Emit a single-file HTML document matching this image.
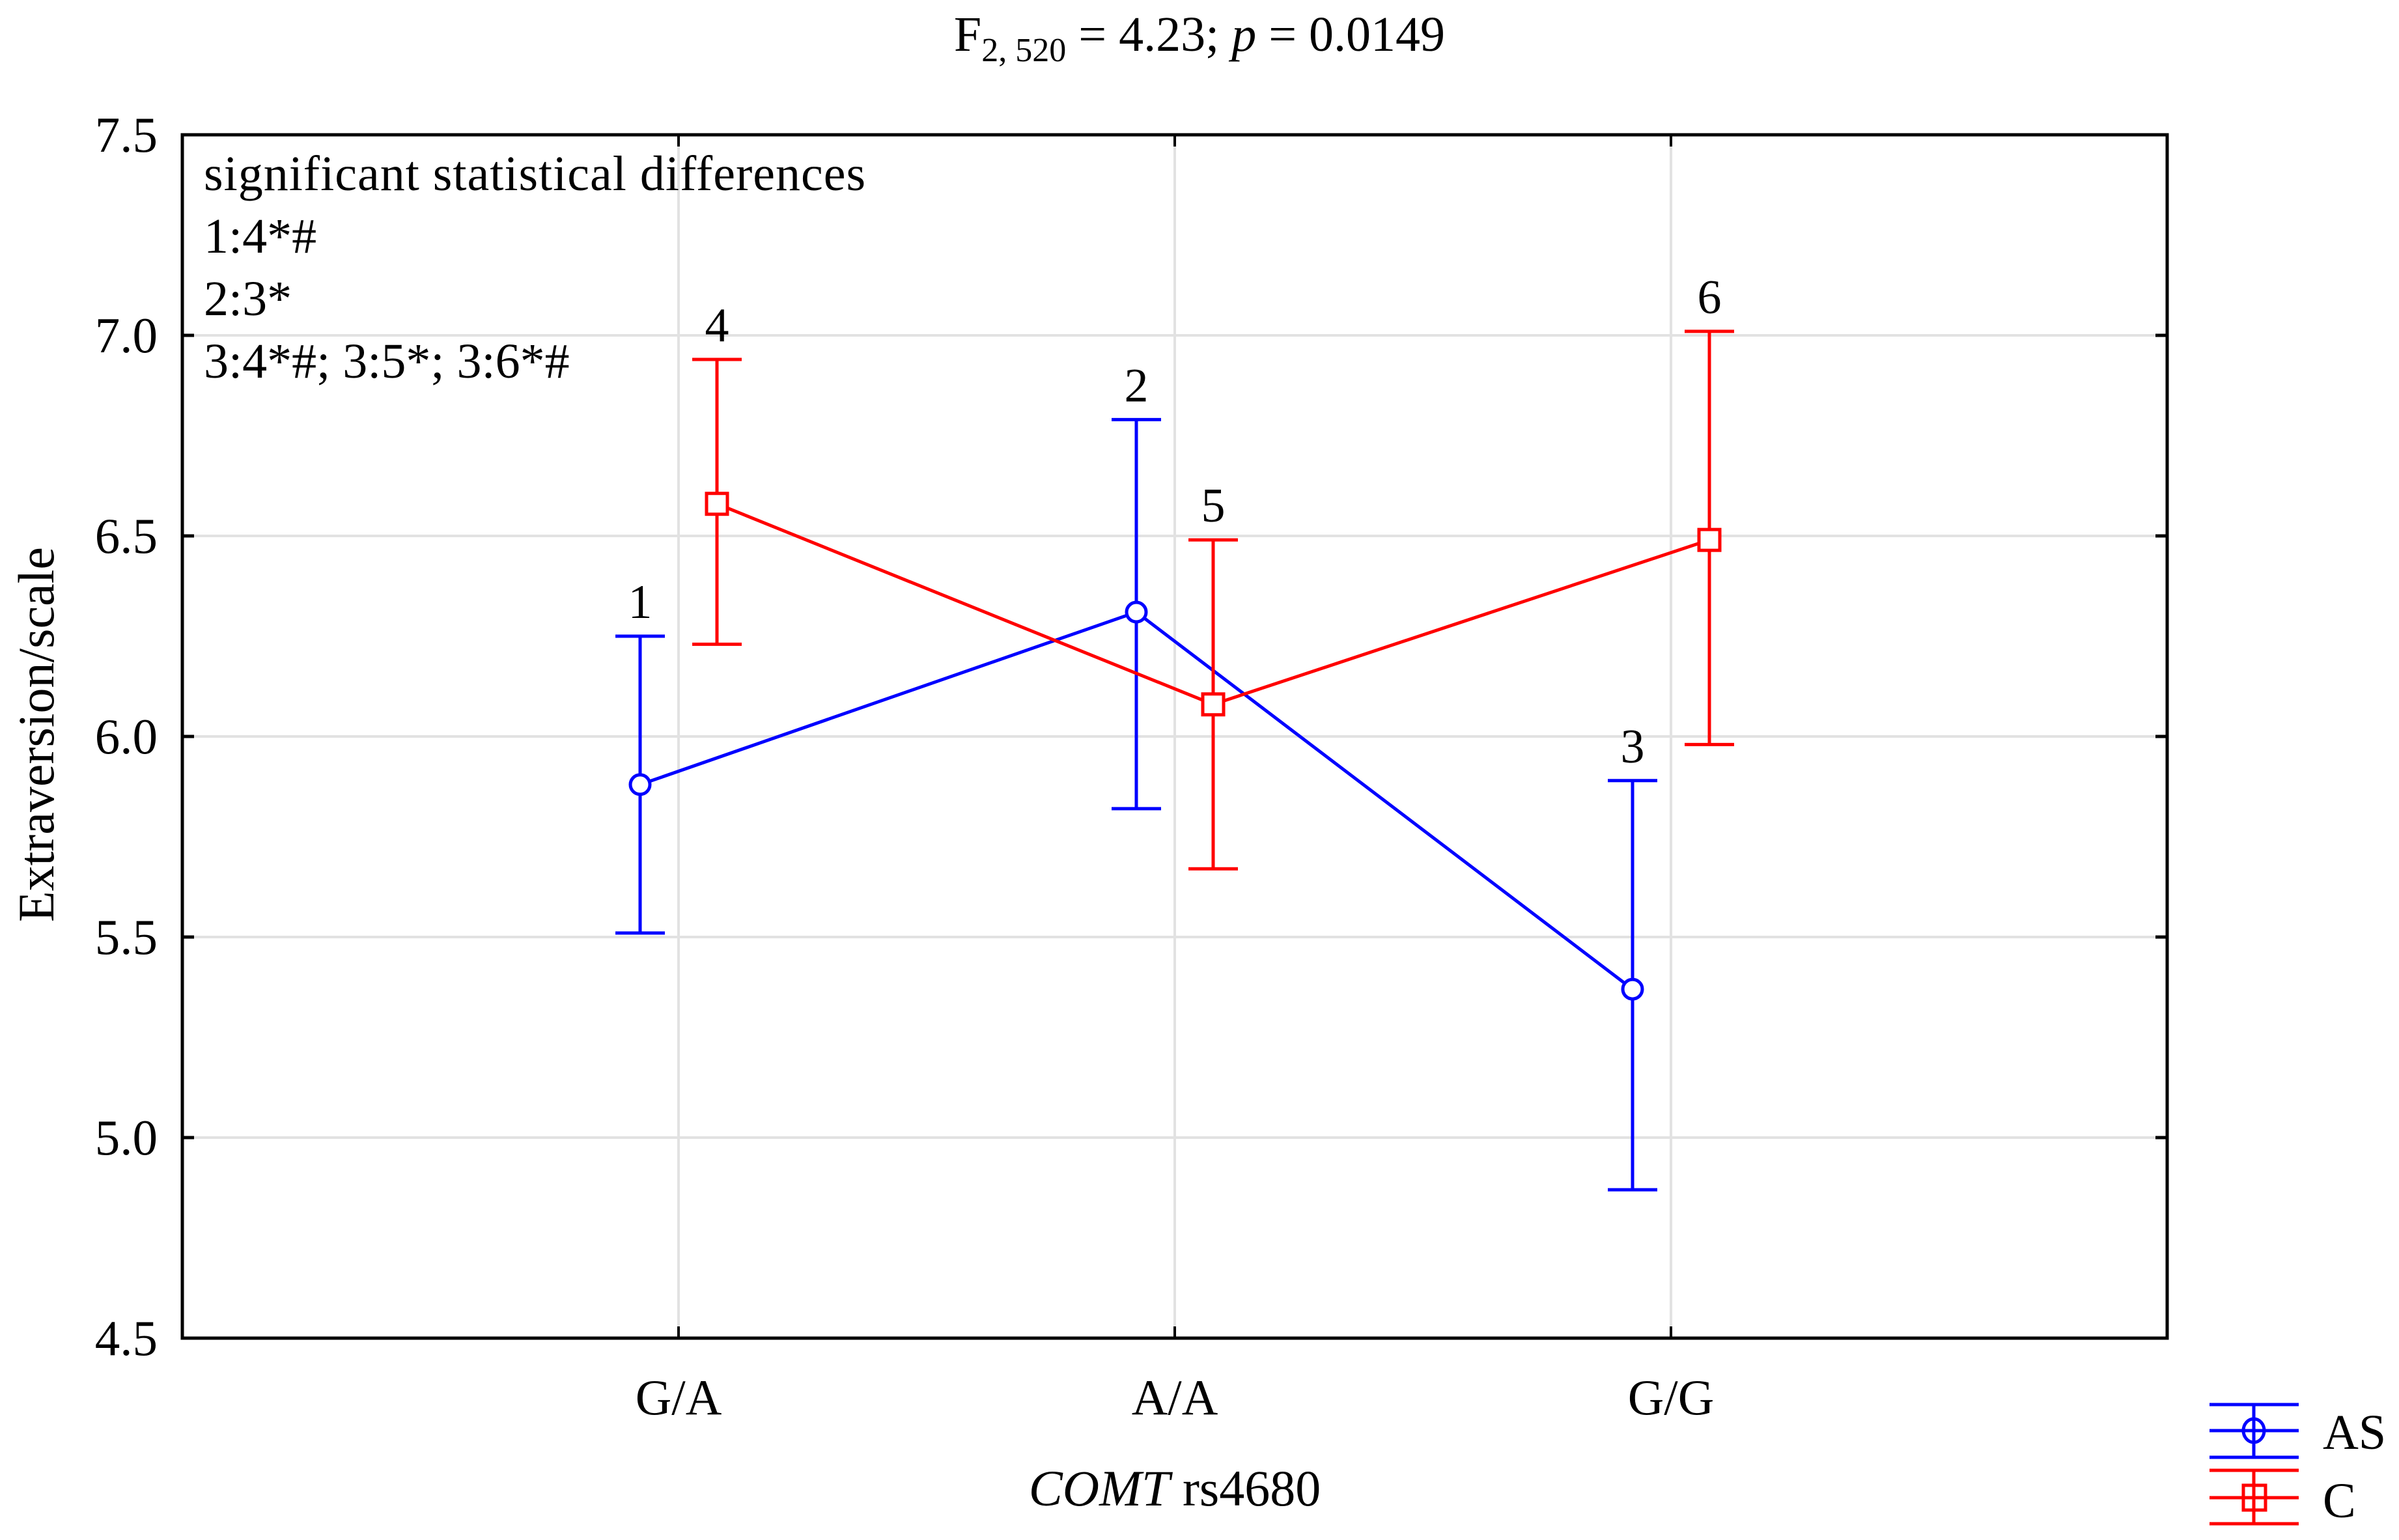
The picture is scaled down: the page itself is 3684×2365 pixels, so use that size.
<!DOCTYPE html>
<html><head><meta charset="utf-8"><style>
html,body{margin:0;padding:0;background:#fff;}
svg{display:block;font-family:"Liberation Serif",serif;}
</style></head><body>
<svg id="chart" width="3684" height="2365" viewBox="0 0 3684 2365" xmlns="http://www.w3.org/2000/svg">
<text x="1842" y="78" text-anchor="middle" font-size="76">F<tspan font-size="52" dy="16">2, 520</tspan><tspan dy="-16"> = 4.23; </tspan><tspan font-style="italic">p</tspan> = 0.0149</text>
<g id="grid"></g>
<g id="axes"></g>
<g id="series"></g>
<g font-size="76">
<text x="313" y="292" letter-spacing="1">significant statistical differences</text>
<text x="313" y="388">1:4*#</text>
<text x="313" y="484">2:3*</text>
<text x="313" y="580">3:4*#; 3:5*; 3:6*#</text>
</g>
<text transform="translate(82,1128) rotate(-90)" text-anchor="middle" font-size="78">Extraversion/scale</text>
<text x="1804" y="2312" text-anchor="middle" font-size="78"><tspan font-style="italic">COMT</tspan> rs4680</text>
<g>
<g stroke="#0000ff" stroke-width="5" fill="none">
<line x1="3393" y1="2157" x2="3530" y2="2157"/><line x1="3393" y1="2197" x2="3530" y2="2197"/><line x1="3393" y1="2238" x2="3530" y2="2238"/><line x1="3461" y1="2157" x2="3461" y2="2238"/><ellipse cx="3461" cy="2197" rx="16" ry="18"/>
</g>
<text x="3567" y="2225" font-size="76">AS</text>
<g stroke="#ff0000" stroke-width="5" fill="none">
<line x1="3393" y1="2258" x2="3530" y2="2258"/><line x1="3393" y1="2300" x2="3530" y2="2300"/><line x1="3393" y1="2340" x2="3530" y2="2340"/><line x1="3461" y1="2258" x2="3461" y2="2340"/><rect x="3445" y="2281" width="34" height="38"/>
</g>
<text x="3567" y="2330" font-size="76">C</text>
</g>
</svg>
<script>
const categories = ["G/A", "A/A", "G/G"];
const yTicks = [4.5, 5.0, 5.5, 6.0, 6.5, 7.0, 7.5];
const yTickLabels = ["4.5", "5.0", "5.5", "6.0", "6.5", "7.0", "7.5"];
const asMean = [5.88, 6.31, 5.37];
const asLow = [5.51, 5.82, 4.87];
const asHigh = [6.25, 6.79, 5.89];
const asIds = ["1", "2", "3"];
const cMean = [6.58, 6.08, 6.49];
const cLow = [6.23, 5.67, 5.98];
const cHigh = [6.94, 6.49, 7.01];
const cIds = ["4", "5", "6"];

const NS = "http://www.w3.org/2000/svg";
const L = 280, R = 3328, T = 207, B = 2055, yMin = 4.5, yMax = 7.5;
function yS(v){ return B - (v - yMin) / (yMax - yMin) * (B - T); }
function xS(i){ return L + (i + 1) * (R - L) / (categories.length + 1); }
function mk(tag, attrs, parent){ const e = document.createElementNS(NS, tag); for (const k in attrs) e.setAttribute(k, attrs[k]); parent.appendChild(e); return e; }

const grid = document.getElementById('grid');
const axes = document.getElementById('axes');
const series = document.getElementById('series');

yTicks.forEach((v, i) => {
  const y = yS(v);
  if (i > 0 && i < yTicks.length - 1) {
    const g = mk('line', {x1: L, x2: R, y1: y, y2: y, stroke: '#e2e2e2', 'stroke-width': 4}, grid);
    
    
  }
  const t1 = mk('line', {x1: L, x2: L + 18, y1: y, y2: y, stroke: '#000', 'stroke-width': 5}, axes);
  
  
  const t2 = mk('line', {x1: R - 18, x2: R, y1: y, y2: y, stroke: '#000', 'stroke-width': 5}, axes);
  
  
  const lb = mk('text', {x: 242, y: y + 26, 'text-anchor': 'end', 'font-size': 77}, axes);
  lb.textContent = yTickLabels[i];
  
  
});
categories.forEach((c, i) => {
  const x = xS(i);
  const g = mk('line', {x1: x, x2: x, y1: T, y2: B, stroke: '#e2e2e2', 'stroke-width': 4}, grid);
  
  
  const t1 = mk('line', {x1: x, x2: x, y1: T, y2: T + 18, stroke: '#000', 'stroke-width': 4}, axes);
  
  
  const t2 = mk('line', {x1: x, x2: x, y1: B - 18, y2: B, stroke: '#000', 'stroke-width': 4}, axes);
  
  
  const lb = mk('text', {x: x, y: 2172, 'text-anchor': 'middle', 'font-size': 77}, axes);
  lb.textContent = c;
  
  
});
const frame = mk('rect', {x: L, y: T, width: R - L, height: B - T, fill: 'none', stroke: '#000', 'stroke-width': 5}, axes);



function drawSeries(mean, low, high, ids, color, off, marker, name){
  const pts = mean.map((v, i) => (xS(i) + off) + ',' + yS(v)).join(' ');
  const pl = mk('polyline', {points: pts, fill: 'none', stroke: color, 'stroke-width': 5}, series);
  
  
  mean.forEach((v, i) => {
    const x = xS(i) + off;
    const eb = mk('path', {d: `M${x},${yS(low[i])}V${yS(high[i])}M${x-38},${yS(low[i])}H${x+38}M${x-38},${yS(high[i])}H${x+38}`, stroke: color, 'stroke-width': 5, fill: 'none'}, series);
    
    
    let m;
    if (marker === 'circle') m = mk('circle', {cx: x, cy: yS(v), r: 15, fill: '#fff', stroke: color, 'stroke-width': 5}, series);
    else m = mk('rect', {x: x - 16, y: yS(v) - 16, width: 32, height: 32, fill: '#fff', stroke: color, 'stroke-width': 5}, series);
    
    
    const lb = mk('text', {x: x, y: yS(high[i]) - 28, 'text-anchor': 'middle', 'font-size': 74}, series);
    lb.textContent = ids[i];
    
    
  });
}
drawSeries(asMean, asLow, asHigh, asIds, '#0000ff', -59, 'circle', 'as');
drawSeries(cMean, cLow, cHigh, cIds, '#ff0000', 59, 'square', 'c');
</script>
</body></html>
